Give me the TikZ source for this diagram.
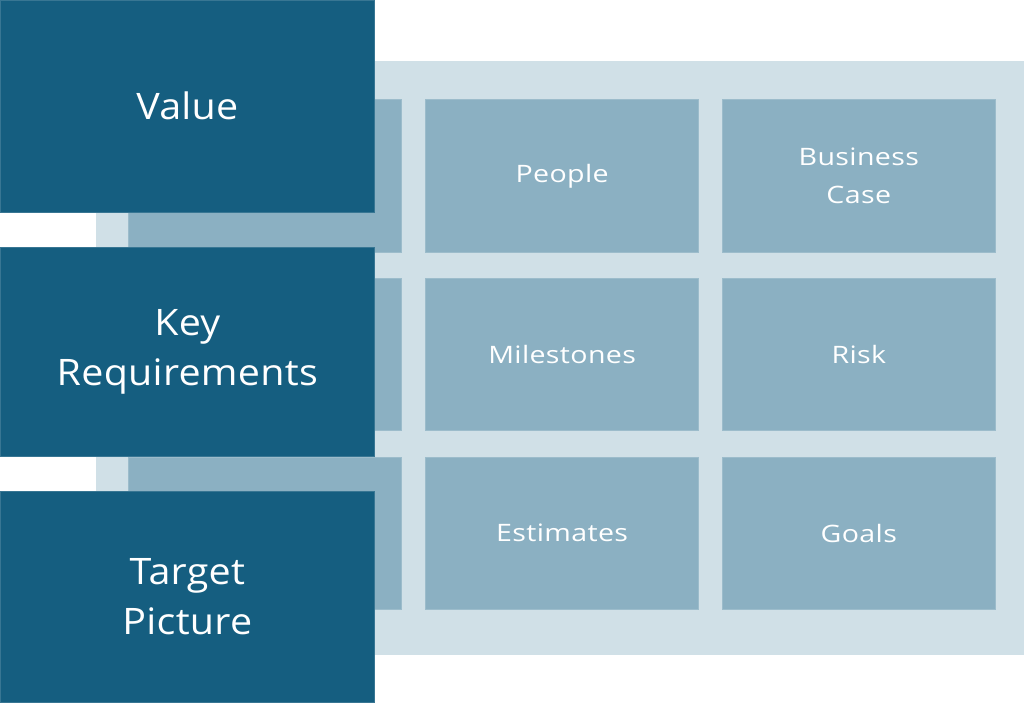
\documentclass[tikz,border=0pt]{standalone}
\usepackage{fontspec}
\setmainfont{Open Sans}[Ligatures=NoCommon]
\newfontfamily\cellfont{Open Sans}[Ligatures=NoCommon,FakeStretch=1.19,LetterSpace=1.5]
\newfontfamily\headfont{Open Sans}[Ligatures=NoCommon,FakeStretch=1.08,LetterSpace=0.8]
\definecolor{darkblue}{RGB}{21,94,128}
\definecolor{midblue}{RGB}{139,176,194}
\definecolor{lightblue}{RGB}{208,224,231}
\begin{document}
\begin{tikzpicture}[x=1pt,y=-1pt,
  cellbox/.style={fill=midblue,draw=midblue!85!white,line width=0.6pt,inner sep=0pt,minimum width=273pt,minimum height=152.5pt,anchor=north west,text=white,align=center,font=\cellfont\fontsize{24}{38.5}\selectfont},
  headbox/.style={fill=darkblue,draw=darkblue!85!white,line width=0.6pt,inner sep=0pt,minimum width=374pt,anchor=north west,text=white,align=center,font=\headfont\fontsize{36.5}{50}\selectfont}]
\useasboundingbox (0,0) rectangle (1024,702);
\node[fill=lightblue,inner sep=0pt,minimum width=928pt,minimum height=594.5pt,anchor=north west] (panel) at (96,60.5) {};
% column 1
\node[cellbox] (c11) at (128,99.3) {};
\node[cellbox] (c21) at (128,277.7) {};
\node[cellbox] (c31) at (128,456.7) {};
% column 2
\node[cellbox] (c12) at (425.3,99.3) {People};
\node[cellbox] (c22) at (425.3,277.7) {Milestones};
\node[cellbox] (c32) at (425.3,456.7) {Estimates};
% column 3
\node[cellbox] (c13) at (722,99.3) {Business\\Case};
\node[cellbox] (c23) at (722,277.7) {Risk};
\node[cellbox] (c33) at (722,456.7) {Goals};
% headers
\node[headbox,minimum height=211.5pt] (value) at (0,0) {Value};
\node[headbox,minimum height=209.5pt] (keyreq) at (0,246.8) {Key\\Requirements};
\node[headbox,minimum height=211pt] (target) at (0,491.2) {Target\\Picture};
\end{tikzpicture}
\end{document}
